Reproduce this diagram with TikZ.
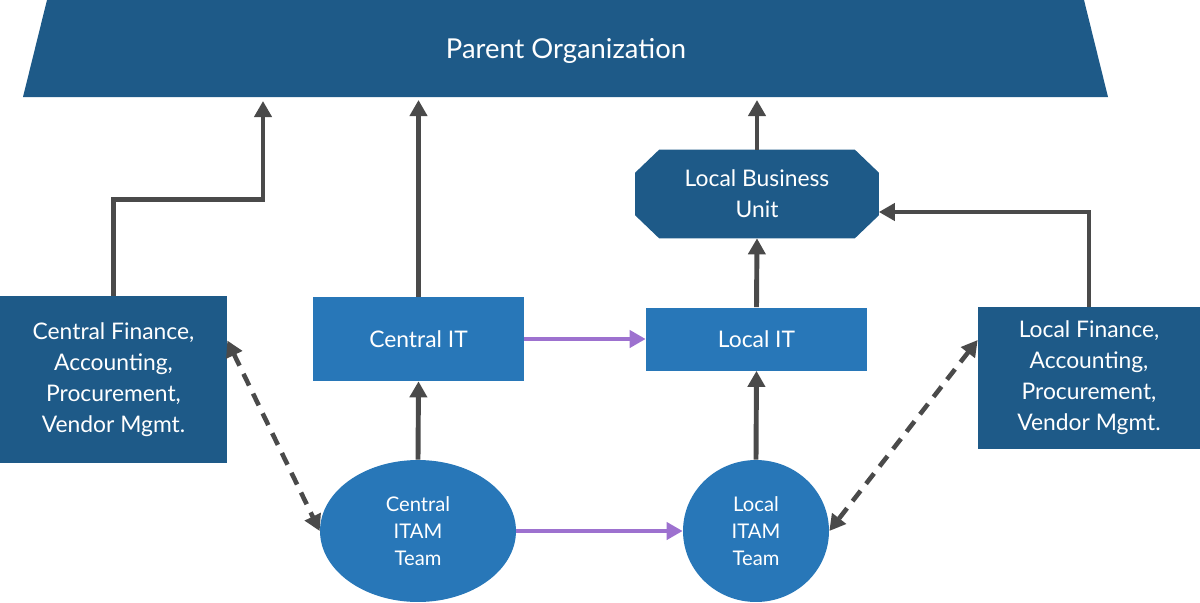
\documentclass[tikz,border=0pt]{standalone}
\usepackage{fontspec}
\setmainfont{Lato}
\usetikzlibrary{arrows.meta,shapes.geometric,backgrounds}
\definecolor{orgdark}{HTML}{1E5A88}
\definecolor{orgmid}{HTML}{2877B8}
\definecolor{linkgray}{HTML}{4A4A4A}
\definecolor{peerpurple}{HTML}{9D71CF}
\tikzset{
  px/.style={x=0.02cm, y=-0.02cm},
  darkbox/.style={fill=orgdark, text=white, align=center, inner sep=0pt, font=\fontsize{13}{17.6}\selectfont},
  litebox/.style={fill=orgmid, text=white, align=center, inner sep=0pt, font=\fontsize{13}{17.6}\selectfont},
  team/.style={ellipse, fill=orgmid, text=white, align=center, inner sep=0pt, font=\fontsize{11.5}{15.3}\selectfont},
  link/.style={linkgray, line width=2.8pt, -{Triangle[length=3.2mm, width=3.4mm]}},
  peer/.style={peerpurple, line width=2.6pt, -{Triangle[length=3.2mm, width=3.4mm]}},
  dlink/.style={linkgray, line width=2.6pt, dash pattern=on 2.6mm off 1.8mm,
    {Triangle[length=3.2mm, width=3.4mm]}-{Triangle[length=3.2mm, width=3.4mm]}},
}
\begin{document}
\begin{tikzpicture}[px]
  \useasboundingbox (0,0) rectangle (1200,602);
  % parent organization (trapezoid)
  \fill[orgdark] (47,0) -- (1084,0) -- (1108,97) -- (23,97) -- cycle;
  \node[text=white, font=\fontsize{15.6}{18}\selectfont] (parent) at (566,51) {Parent Organization};
  \coordinate (pbase) at (0,100);
  % units
  \node[darkbox, fill=none, minimum width=4.86cm, minimum height=1.76cm] (lbu) at (757,194) {Local Business\\Unit};
  \begin{scope}[on background layer]
    \fill[orgdark] ([xshift=0.48cm]lbu.north west) -- ([xshift=-0.48cm]lbu.north east)
      -- ([yshift=-0.46cm]lbu.north east) -- ([yshift=0.46cm]lbu.south east)
      -- ([xshift=-0.48cm]lbu.south east) -- ([xshift=0.48cm]lbu.south west)
      -- ([yshift=0.46cm]lbu.south west) -- ([yshift=-0.46cm]lbu.north west) -- cycle;
  \end{scope}
  \node[darkbox, minimum width=4.54cm, minimum height=3.34cm] (cfin) at (113.5,379.5)
       {Central Finance,\\Accounting,\\Procurement,\\Vendor Mgmt.};
  \node[darkbox, minimum width=4.44cm, minimum height=2.84cm] (lfin) at (1089,378)
       {Local Finance,\\Accounting,\\Procurement,\\Vendor Mgmt.};
  \node[litebox, minimum width=4.22cm, minimum height=1.68cm] (cit) at (418.5,339) {Central IT};
  \node[litebox, minimum width=4.42cm, minimum height=1.26cm] (lit) at (756.5,339) {Local IT};
  % ITAM teams
  \node[team, minimum width=3.92cm, minimum height=2.84cm] (citam) at (418,531) {Central\\ITAM\\Team};
  \node[team, minimum width=2.92cm, minimum height=2.84cm] (litam) at (756,531) {Local\\ITAM\\Team};
  % reporting lines
  \draw[link] (cfin.north) -- ++(0,-96) -| (263,101);
  \draw[link] (cit.north) -- (cit.north |- pbase);
  \draw[link] (lbu.north) -- (lbu.north |- pbase);
  \draw[link] (lit.north) -- (lbu.south);
  \draw[link] (lfin.north) |- ([yshift=-0.36cm]lbu.east);
  \draw[link] (citam.north) -- (cit.south);
  \draw[link] (litam.north) -- (lit.south);
  % central -> local
  \draw[peer] (cit.east) -- (lit.west);
  \draw[peer] (citam.east) -- (litam.west);
  % finance <-> ITAM
  \draw[dlink] ([yshift=0.78cm]cfin.east) -- (citam.west);
  \draw[dlink] ([yshift=0.76cm]lfin.west) -- (litam.east);
\end{tikzpicture}
\end{document}
